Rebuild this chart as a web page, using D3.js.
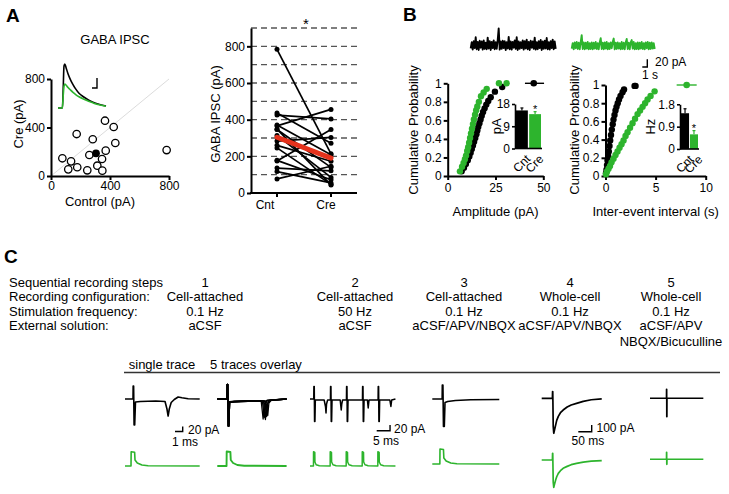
<!DOCTYPE html>
<html><head><meta charset="utf-8">
<script src="https://cdn.jsdelivr.net/npm/d3@7"></script>
<style>
body{margin:0;background:#fff}
svg{display:block}
text{font-family:"Liberation Sans",Arial,Helvetica,sans-serif;fill:#000}
</style>
</head><body>
<svg id="c" width="729" height="494"></svg>
<script>
// ---------------- DATA ----------------
// Panel A scatter (pA)
const scatterControl = [77,136,117,178,246,174,260,283,314,346,348,371,366,425,436,784];
const scatterCre     = [146,121,55,72,47,346,173,303,85,140,44,209,456,404,272,214];
const meanPoint = [305,187];
const scatterTicks = [0,400,800];
// Panel A paired plot
const pairCategories = ["Cnt","Cre"];
const pairTicks = [0,200,400,600,800];
const pairGrid = [100,200,300,400,500,600,700,800,900];
const pairMean = [304,190];
// inset IPSC traces (ms, pA)
const ipscT     = [0,22,26,30,34,40,50,62,75,90,105,127,150,175,200,240];
const ipscCnt   = [0,0,400,860,900,830,700,580,480,380,300,230,170,120,80,40];
const ipscCre   = [0,0,250,440,490,470,420,370,320,270,230,185,145,105,70,35];

// Panel B cumulative amplitude (pA, probability)
const ampCntX = [7.3,8.5,9.5,10.5,11.3,12,12.6,13.2,13.8,14.4,15,15.5,16,16.6,17.2,17.8,18.5,19.3,20.2,21.2,22.5,24.7,28.5];
const ampCntP = [0.05,0.09,0.13,0.17,0.21,0.25,0.29,0.33,0.37,0.41,0.45,0.49,0.53,0.57,0.61,0.65,0.69,0.73,0.77,0.81,0.85,0.91,0.96];
const ampCreX = [6.4,7.5,8.3,9,9.6,10.2,10.7,11.2,11.7,12.2,12.7,13.2,13.7,14.3,14.9,15.5,16.3,17.4,18.8,20.4,26.8,30.8];
const ampCreP = [0.05,0.1,0.14,0.18,0.22,0.27,0.31,0.36,0.41,0.46,0.51,0.56,0.61,0.66,0.71,0.75,0.8,0.86,0.9,0.94,1.0,1.0];
const ampEndCnt = {x:45, p:1.0, lo:40.4, hi:50.4};
const ampTicksX = [0,25,50];
// Panel B cumulative inter-event interval (s, probability)
const iviCntX = [0.05,0.1,0.15,0.2,0.27,0.33,0.4,0.47,0.55,0.63,0.72,0.8,0.9,1.0,1.1,1.22,1.35,1.5,1.7,1.85,2.9,3.0];
const iviCntP = [0.03,0.07,0.12,0.17,0.22,0.27,0.33,0.39,0.45,0.51,0.57,0.62,0.67,0.72,0.76,0.8,0.84,0.88,0.92,0.95,0.99,0.99];
const iviCreX = [0.05,0.15,0.3,0.45,0.6,0.8,1.0,1.2,1.4,1.6,1.8,2.0,2.2,2.45,2.7,2.95,3.2,3.45,3.7,3.95,4.2,4.5,4.9];
const iviCreP = [0.02,0.05,0.08,0.11,0.15,0.19,0.23,0.27,0.31,0.35,0.39,0.44,0.48,0.53,0.58,0.63,0.68,0.72,0.76,0.8,0.84,0.88,0.93];
const iviEndCre = {x:8.1, p:1.0, lo:7.1, hi:9.1};
const iviTicksX = [0,5,10];
const probTicks = [0,0.2,0.4,0.6,0.8,1];
// inset bars
const barGroups = ["Cnt","Cre"];
const ampMean = [15.4,13.9], ampSem = [1.0,1.0], ampTicks = [0,9,18];
const freqMean = [1.44,0.59], freqSem = [0.18,0.15], freqTicks = [0,0.9,1.8];
// spontaneous traces (pA, one sample per 0.2 s)
const spontCnt = [-9,7,-12,10,-8,20,-11,8,-13,11,-7,9,-12,12,-10,6,-11,19,-9,10,-13,8,-8,12,-11,7,-10,13,43,-12,9,-10,11,-8,10,-13,7,-9,21,-11,9,-12,8,-7,12,-10,20,-13,9,-10,7,-8,12,-12,10,-9,14,-11,8,-13,11,-7,9,-10,19,-12,7,-11,10,-8,13,-13,9,-10,11,-9,18,-11,7,-12,10,-8,14,-11,9,-10];
const spontCre = [-8,6,-10,8,-7,9,-9,7,-10,9,27,-9,8,-10,7,-8,9,-10,6,-9,8,-10,7,-8,9,-9,6,-10,8,19,-9,7,-10,8,-8,9,-10,6,-9,8,-7,9,18,-10,7,-9,8,-8,6,-10,9,-9,7,-10,8,17,-9,7,-10,8,14,-8,9,-10,6,-9,8,-10,7,-8,9,-9,6,-10,8,-7,9,-10,7,-9,8,-8,6,-9];

// Panel C table
const rowLabels = ["Sequential recording steps","Recording configuration:","Stimulation frequency:","External solution:"];
const stepNums = ["1","2","3","4","5"];
const configs = ["Cell-attached","Cell-attached","Cell-attached","Whole-cell","Whole-cell"];
const freqs = ["0.1 Hz","50 Hz","0.1 Hz","0.1 Hz","0.1 Hz"];
const solutions = [["aCSF"],["aCSF"],["aCSF/APV/NBQX"],["aCSF/APV/NBQX"],["aCSF/APV","NBQX/Bicuculline"]];
const traceHeaders = ["single trace","5 traces overlay"];

// Panel C traces [ms, pA]
const c1Cnt = [[0,0],[1.04,0],[1.06,52],[1.12,52],[1.18,-104],[1.26,-104],[1.36,-12],[2,-10],[4,-8],[5.2,-10],[5.45,-40],[5.6,-68],[5.75,-40],[6.0,-14],[6.4,-2],[6.9,8],[7.4,5],[8.2,1],[9.7,0]];
const c1Cre = [[0,0],[0.78,0],[0.8,57],[1.25,55],[1.3,24],[1.6,12],[2.2,4],[3,1],[9.7,0]];
const c2CntA = [[0,0],[1.26,0],[1.28,58],[1.36,58],[1.42,-108],[1.5,-108],[1.6,-12],[2.2,-10],[4,-8],[5.7,-8],[5.95,-80],[6.1,-20],[6.4,-6],[9,0]];
const c2CntB = [[0,0],[1.26,0],[1.28,58],[1.36,58],[1.42,-108],[1.5,-108],[1.6,-13],[2.2,-11],[4,-9],[5.85,-8],[6.1,-74],[6.25,-18],[6.55,-5],[9,0]];
const c2CntC = [[0,0],[1.26,0],[1.28,58],[1.36,58],[1.42,-108],[1.5,-108],[1.6,-11],[2.2,-9],[4,-7],[6.0,-8],[6.25,-82],[6.4,-22],[6.75,-6],[9,0]];
const c2CntD = [[0,0],[1.26,0],[1.28,58],[1.36,58],[1.42,-108],[1.5,-108],[1.6,-14],[2.2,-10],[4,-8],[6.15,-8],[6.4,-70],[6.55,-18],[6.85,-5],[9,0]];
const c2CntE = [[0,0],[1.26,0],[1.28,58],[1.36,58],[1.42,-108],[1.5,-108],[1.6,-12],[2.2,-12],[4,-9],[6.3,-8],[6.55,-66],[6.7,-16],[7.0,-5],[9,0]];
const c2Cre = [[0,0],[1.2,0],[1.22,58],[1.7,56],[1.75,24],[2.05,12],[2.6,4],[3.5,1],[9,0]];
const c3Cnt = [[0,0],[1.4,0],[1.45,50],[1.6,50],[1.7,-90],[1.85,-90],[2.0,-4],[5.3,-4],[5.8,-30],[6.0,-56],[6.2,-20],[6.6,-4],[7.65,-4],[7.7,50],[7.85,50],[7.95,-90],[8.1,-90],[8.25,-4],[11.3,-4],[11.7,-44],[11.9,-20],[12.2,-4],[13.65,-4],[13.7,50],[13.85,50],[13.95,-90],[14.1,-90],[14.25,-4],[19.65,-4],[19.7,50],[19.85,50],[19.95,-90],[20.1,-90],[20.25,-4],[21.5,-4],[21.8,-36],[22.1,-4],[25.5,-4],[25.55,50],[25.7,50],[25.8,-90],[25.95,-90],[26.1,-4],[29.9,-4],[30.3,-30],[30.6,-4],[32,0]];
const c3Cre = [[0,0],[1.3,0],[1.32,57],[1.8,54],[1.85,16],[2.3,5],[3.5,1],[7.55,0],[7.57,57],[8.05,54],[8.1,16],[8.6,5],[9.8,1],[13.55,0],[13.57,57],[14.05,54],[14.1,16],[14.6,5],[15.8,1],[19.55,0],[19.57,57],[20.05,54],[20.1,16],[20.6,5],[21.8,1],[25.4,0],[25.42,57],[25.9,54],[25.95,16],[26.45,5],[27.6,1],[32,0]];
const c4Cnt = [[0,0],[1.28,0],[1.3,56],[1.38,56],[1.45,-110],[1.56,-110],[1.65,-14],[2.0,-10],[3,-6],[5,-3],[8.7,-2]];
const c4Cre = [[0,0],[0.98,0],[1.0,60],[1.45,58],[1.5,24],[1.8,12],[2.4,4],[3.2,1],[8.7,0]];
const c5Cnt = [[0,0],[40,0],[40.6,100],[41.2,100],[41.8,-40],[43,-420],[45,-522],[48,-470],[52,-400],[56,-330],[62,-270],[70,-215],[80,-175],[95,-130],[110,-100],[130,-75],[155,-45],[185,-22],[224,-8]];
const c5Cre = [[0,0],[40,0],[40.6,100],[41.2,100],[41.8,-40],[43,-330],[45,-408],[48,-360],[52,-300],[56,-250],[62,-200],[70,-160],[80,-124],[95,-95],[110,-70],[130,-50],[155,-32],[185,-18],[224,-8]];
const c6Cnt = [[0,0],[61.5,0],[61.7,134],[62.3,134],[62.5,-275],[63.1,-275],[63.4,0],[199,0]];
const c6Cre = [[0,0],[61.5,0],[61.7,105],[62.3,105],[62.5,-75],[63.1,-75],[63.4,0],[199,0]];

// ---------------- DRAW ----------------
const GREEN = "#2db42d", RED = "#e5321c";
const FONT = '"Liberation Sans",Arial,Helvetica,sans-serif';
const svg = d3.select("#c");

function styleAxis(g, w) {
  g.attr("font-family", FONT).attr("font-size", 12);
  g.select(".domain").attr("stroke-width", w).attr("stroke", "#000");
  g.selectAll(".tick line").attr("stroke-width", w).attr("stroke", "#000");
  g.selectAll(".tick text").attr("fill", "#000");
}
function txt(x, y, s, o = {}) {
  const t = svg.append("text").attr("x", x).attr("y", y).text(s)
    .attr("font-size", o.size || 13).attr("text-anchor", o.anchor || "middle")
    .attr("dominant-baseline", "central");
  if (o.bold) t.attr("font-weight", "bold");
  if (o.rotate) t.attr("transform", `rotate(${o.rotate},${x},${y})`);
  return t;
}
function path(pts, xs, ys, color, w, curve) {
  const line = d3.line().x(d => xs(d[0])).y(d => ys(d[1]));
  if (curve) line.curve(curve);
  svg.append("path").attr("d", line(pts)).attr("fill", "none").attr("stroke", color)
    .attr("stroke-width", w).attr("stroke-linejoin", "round").attr("stroke-linecap", "butt");
}
const fmt = d => String(+(+d).toFixed(1));

// panel letters
txt(6, 15, "A", {size: 19, bold: true, anchor: "start"});
txt(403, 14, "B", {size: 19, bold: true, anchor: "start"});
txt(4, 256, "C", {size: 19, bold: true, anchor: "start"});

// ---- A: scatter ----
txt(115, 39, "GABA IPSC", {size: 13});
const sx = d3.scaleLinear().domain([0, 800]).range([51, 169]);
const sy = d3.scaleLinear().domain([0, 800]).range([176, 79]);
svg.append("line").attr("x1", sx(0)).attr("y1", sy(0)).attr("x2", sx(800)).attr("y2", sy(800))
  .attr("stroke", "#dcdcdc").attr("stroke-width", 1);
styleAxis(svg.append("g").attr("transform", `translate(0,${sy(0)})`)
  .call(d3.axisBottom(sx).tickValues(scatterTicks).tickSize(4).tickSizeOuter(0).tickPadding(1)), 2);
styleAxis(svg.append("g").attr("transform", `translate(${sx(0)},0)`)
  .call(d3.axisLeft(sy).tickValues(scatterTicks).tickSize(4).tickSizeOuter(0).tickPadding(2)), 2);
txt(100, 201, "Control (pA)");
txt(18, 124, "Cre (pA)", {rotate: -90});
svg.append("g").selectAll("circle").data(scatterControl).join("circle")
  .attr("cx", d => sx(d)).attr("cy", (d, i) => sy(scatterCre[i])).attr("r", 3.7)
  .attr("fill", "#fff").attr("stroke", "#000").attr("stroke-width", 1.3);
svg.append("circle").attr("cx", sx(meanPoint[0])).attr("cy", sy(meanPoint[1])).attr("r", 3.9).attr("fill", "#000");
// inset IPSC
const ix = d3.scaleLinear().domain([0, 240]).range([58, 106]);
const iy = d3.scaleLinear().domain([0, 900]).range([108, 64]);
path(ipscT.map((t, i) => [t, ipscCnt[i]]), ix, iy, "#000", 1.6, d3.curveMonotoneX);
path(ipscT.map((t, i) => [t, ipscCre[i]]), ix, iy, GREEN, 1.6, d3.curveMonotoneX);
svg.append("path").attr("d", "M97,78V88H92").attr("fill", "none").attr("stroke", "#000").attr("stroke-width", 1.4);

// ---- A: paired plot ----
const py = d3.scaleLinear().domain([0, 900]).range([193, 28]);
const px = d3.scalePoint().domain(pairCategories).range([277, 331]);
const pxLabel = d3.scalePoint().domain(pairCategories).range([265, 326]);
svg.append("g").selectAll("line").data(pairGrid).join("line")
  .attr("x1", 251).attr("x2", 357).attr("y1", d => py(d)).attr("y2", d => py(d))
  .attr("stroke", "#555").attr("stroke-width", 1.4).attr("stroke-dasharray", "6,4");
styleAxis(svg.append("g").attr("transform", `translate(251,0)`)
  .call(d3.axisLeft(py).tickValues(pairTicks).tickSize(4).tickSizeOuter(0).tickPadding(2)), 2);
svg.append("line").attr("x1", 250).attr("x2", 357).attr("y1", py(0)).attr("y2", py(0)).attr("stroke", "#000").attr("stroke-width", 2);
svg.append("g").selectAll("line").data(pairCategories).join("line")
  .attr("x1", d => px(d)).attr("x2", d => px(d)).attr("y1", py(0)).attr("y2", py(0) + 4).attr("stroke", "#000").attr("stroke-width", 2);
svg.append("g").selectAll("text").data(pairCategories).join("text")
  .attr("x", d => pxLabel(d)).attr("y", 205).attr("text-anchor", "middle").attr("dominant-baseline", "central")
  .attr("font-size", 12).text(d => d);
txt(215, 114, "GABA IPSC (pA)", {rotate: -90});
txt(306, 23, "*", {size: 15});
svg.append("g").selectAll("line").data(scatterControl).join("line")
  .attr("x1", px("Cnt")).attr("x2", px("Cre")).attr("y1", d => py(d)).attr("y2", (d, i) => py(scatterCre[i]))
  .attr("stroke", "#000").attr("stroke-width", 1.7);
svg.append("g").selectAll("circle").data(scatterControl.concat(scatterCre)).join("circle")
  .attr("cx", (d, i) => i < scatterControl.length ? px("Cnt") : px("Cre")).attr("cy", d => py(d)).attr("r", 2.5).attr("fill", "#000");
svg.append("line").attr("x1", px("Cnt")).attr("x2", px("Cre")).attr("y1", py(pairMean[0])).attr("y2", py(pairMean[1]))
  .attr("stroke", RED).attr("stroke-width", 5).attr("stroke-linecap", "round");

// ---- B: spontaneous traces ----
const tx1 = d3.scaleLinear().domain([0, 17]).range([470.7, 555.7]);
const tx2 = d3.scaleLinear().domain([0, 16.6]).range([571.7, 654.7]);
const tyb = d3.scaleLinear().domain([0, 20]).range([45, 37.3]);
const tyg = d3.scaleLinear().domain([0, 20]).range([45.5, 37.8]);
path(spontCnt.map((v, i) => [i * 0.2, v]), tx1, tyb, "#000", 1.9);
path(spontCre.map((v, i) => [i * 0.2, v]), tx2, tyg, GREEN, 1.9);
// scale bar 20 pA / 1 s
const sbx = d3.scaleLinear().domain([0, 1]).range([642.3, 647.3]);
const sby = d3.scaleLinear().domain([0, 20]).range([67, 59.3]);
svg.append("path").attr("d", `M${sbx(0)},${sby(0)}H${sbx(1)}V${sby(20)}`).attr("fill", "none").attr("stroke", "#000").attr("stroke-width", 1.4);
txt(655, 62, "20 pA", {size: 12, anchor: "start"});
txt(642, 75, "1 s", {size: 12, anchor: "start"});

function cumPanel(xs, ys, xTicks, xLabel, yLabelX, seriesList, endMark) {
  styleAxis(svg.append("g").attr("transform", `translate(0,${ys(0)})`)
    .call(d3.axisBottom(xs).tickValues(xTicks).tickSize(4).tickSizeOuter(0).tickPadding(3)), 2);
  styleAxis(svg.append("g").attr("transform", `translate(${xs.range()[0]},0)`)
    .call(d3.axisLeft(ys).tickValues(probTicks).tickFormat(fmt).tickSize(4).tickSizeOuter(0).tickPadding(2)), 2);
  txt((xs.range()[0] + xs.range()[1]) / 2, 211, xLabel);
  txt(yLabelX, 130, "Cumulative Probability", {rotate: -90});
  seriesList.forEach(s => {
    svg.append("g").selectAll("circle").data(s.x).join("circle")
      .attr("cx", d => xs(d)).attr("cy", (d, i) => ys(s.p[i])).attr("r", 3.2).attr("fill", s.color);
  });
  svg.append("line").attr("x1", xs(endMark.lo)).attr("x2", xs(endMark.hi)).attr("y1", ys(endMark.p)).attr("y2", ys(endMark.p))
    .attr("stroke", endMark.color).attr("stroke-width", 1.4);
  svg.append("circle").attr("cx", xs(endMark.x)).attr("cy", ys(endMark.p)).attr("r", 3.3).attr("fill", endMark.color);
}
const ax = d3.scaleLinear().domain([0, 50]).range([447.7, 543.3]);
const ay = d3.scaleLinear().domain([0, 1]).range([176, 83.3]);
cumPanel(ax, ay, ampTicksX, "Amplitude (pA)", 413,
  [{x: ampCntX, p: ampCntP, color: "#000"}, {x: ampCreX, p: ampCreP, color: GREEN}],
  Object.assign({color: "#000"}, ampEndCnt));
const vx = d3.scaleLinear().domain([0, 10]).range([605.5, 705.7]);
const vy = d3.scaleLinear().domain([0, 1]).range([176, 85]);
cumPanel(vx, vy, iviTicksX, "Inter-event interval (s)", 574,
  [{x: iviCntX, p: iviCntP, color: "#000"}, {x: iviCreX, p: iviCreP, color: GREEN}],
  Object.assign({color: GREEN}, iviEndCre));

function barInset(x0, x1, y0, y1, maxV, ticks, means, sems, unit, unitX) {
  const by = d3.scaleLinear().domain([0, maxV]).range([y0, y1]);
  const bx = d3.scaleBand().domain(barGroups).range([x0 + 1, x1]).paddingInner(0.1);
  const colors = ["#000", GREEN];
  barGroups.forEach((g, i) => {
    const cx = bx(g) + bx.bandwidth() / 2;
    svg.append("line").attr("x1", cx).attr("x2", cx).attr("y1", by(means[i])).attr("y2", by(means[i] + sems[i])).attr("stroke", colors[i]).attr("stroke-width", 1.2);
    svg.append("line").attr("x1", cx - 1.5).attr("x2", cx + 1.5).attr("y1", by(means[i] + sems[i])).attr("y2", by(means[i] + sems[i])).attr("stroke", colors[i]).attr("stroke-width", 1.2);
  });
  svg.append("g").selectAll("rect").data(means).join("rect")
    .attr("x", (d, i) => bx(barGroups[i])).attr("width", bx.bandwidth())
    .attr("y", d => by(d)).attr("height", d => y0 - by(d)).attr("fill", (d, i) => colors[i]);
  styleAxis(svg.append("g").attr("transform", `translate(${x0},0)`)
    .call(d3.axisLeft(by).tickValues(ticks).tickFormat(fmt).tickSize(3).tickSizeOuter(0).tickPadding(2)), 1.6);
  svg.append("line").attr("x1", x0).attr("x2", x1 + 1).attr("y1", y0).attr("y2", y0).attr("stroke", "#000").attr("stroke-width", 1.6);
  const gx = bx("Cre") + bx.bandwidth() / 2;
  txt(gx, by(means[1] + sems[1]) - 3, "*", {size: 11});
  barGroups.forEach((g, i) => {
    const cx = bx(g) + bx.bandwidth() / 2 + 3;
    svg.append("text").attr("x", cx).attr("y", y0 + 5).attr("text-anchor", "end").attr("dominant-baseline", "hanging")
      .attr("font-size", 12).attr("transform", `rotate(-45,${cx},${y0 + 5})`).text(g);
  });
  txt(unitX, (y0 + y1) / 2, unit, {size: 13, rotate: -90});
}
barInset(515, 541, 148.5, 104, 18, ampTicks, ampMean, ampSem, "pA", 496);
barInset(680, 698, 149, 104.3, 1.8, freqTicks, freqMean, freqSem, "Hz", 651);

// ---- C: table ----
const colX = [205, 355, 464, 570, 671];
const rowY = [282.7, 296.7, 311, 325.5];
rowLabels.forEach((s, i) => txt(9, rowY[i], s, {anchor: "start", size: 13}));
stepNums.forEach((s, i) => txt(colX[i], rowY[0], s, {size: 13}));
configs.forEach((s, i) => txt(colX[i], rowY[1], s, {size: 13}));
freqs.forEach((s, i) => txt(colX[i], rowY[2], s, {size: 13}));
solutions.forEach((arr, i) => arr.forEach((s, j) => txt(colX[i], rowY[3] + j * 15.5, s, {size: 13})));
txt(162, 364.5, traceHeaders[0], {size: 13});
txt(256, 364.5, traceHeaders[1], {size: 13});
svg.append("line").attr("x1", 124).attr("x2", 720).attr("y1", 372.5).attr("y2", 372.5).attr("stroke", "#333").attr("stroke-width", 1.5);

// ---- C: traces ----
const msFast = 7.7;
const pxPerPaFast = 0.25;
function xsc(x0, dur, pxms) { return d3.scaleLinear().domain([0, dur]).range([x0, x0 + dur * pxms]); }
function ysc(base, k) { return d3.scaleLinear().domain([0, 1]).range([base, base - k]); }
const x1s = xsc(125, 9.7, msFast), yb = ysc(399, pxPerPaFast), yg = ysc(466, pxPerPaFast);
path(c1Cnt, x1s, yb, "#000", 1.6);
path(c1Cre, x1s, yg, GREEN, 1.6);
const sb1x = xsc(175, 1, msFast);
svg.append("path").attr("d", `M${sb1x(0)},${yb(-130)}H${sb1x(1)}V${yb(-110)}`).attr("fill", "none").attr("stroke", "#000").attr("stroke-width", 1.4);
txt(188, 430, "20 pA", {size: 12, anchor: "start"});
txt(172, 441.5, "1 ms", {size: 12, anchor: "start"});
const x2s = xsc(217.3, 9, msFast);
[c2CntA, c2CntB, c2CntC, c2CntD, c2CntE].forEach(t => path(t, x2s, yb, "#000", 1.3));
path(c2Cre, x2s, ysc(466, pxPerPaFast), GREEN, 1.9);
const ms3 = 2.67;
const x3s = xsc(310, 32, ms3), yb3 = ysc(399, 0.25);
path(c3Cnt, x3s, yb3, "#000", 1.5);
path(c3Cre, x3s, ysc(466, 0.25), GREEN, 1.5);
const sb3x = xsc(376.7, 5, ms3);
svg.append("path").attr("d", `M${sb3x(0)},${yb3(-127)}H${sb3x(5)}V${yb3(-104)}`).attr("fill", "none").attr("stroke", "#000").attr("stroke-width", 1.4);
txt(394, 429.3, "20 pA", {size: 12, anchor: "start"});
txt(373, 440.5, "5 ms", {size: 12, anchor: "start"});
const x4s = xsc(432.3, 8.7, msFast);
path(c4Cnt, x4s, ysc(399, pxPerPaFast), "#000", 1.6);
path(c4Cre, x4s, ysc(464, pxPerPaFast), GREEN, 1.6);
const ms5 = 0.268, pa5 = 0.067;
const x5s = xsc(541.7, 224, ms5), yb5 = ysc(398.3, pa5);
path(c5Cnt, x5s, yb5, "#000", 1.7);
path(c5Cre, x5s, ysc(460, pa5), GREEN, 1.7);
const sb5x = xsc(578.3, 50, ms5);
svg.append("path").attr("d", `M${sb5x(0)},${yb5(-500)}H${sb5x(50)}V${yb5(-400)}`).attr("fill", "none").attr("stroke", "#000").attr("stroke-width", 1.4);
txt(596.5, 428.3, "100 pA", {size: 12, anchor: "start"});
txt(571.5, 441, "50 ms", {size: 12, anchor: "start"});
const x6s = xsc(650, 199, ms5);
path(c6Cnt, x6s, ysc(398.3, pa5), "#000", 1.6);
path(c6Cre, x6s, ysc(459.3, pa5), GREEN, 1.6);
</script>
</body></html>
